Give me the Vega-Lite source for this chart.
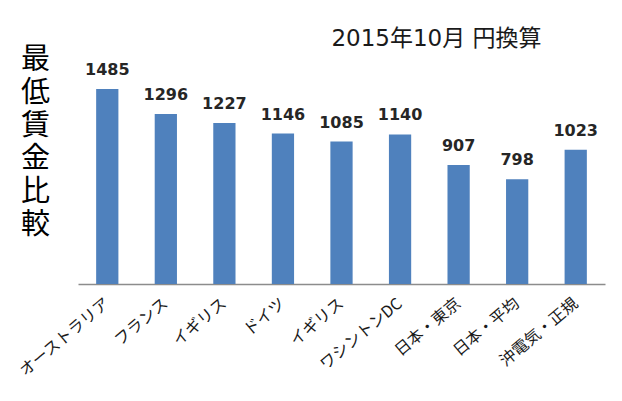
{
  "$schema": "https://vega.github.io/schema/vega-lite/v6.json",
  "autosize": {"type": "none"},
  "width": 527,
  "height": 210,
  "padding": {"left": 78, "top": 74, "right": 17, "bottom": 117},
  "background": "#ffffff",
  "config": {"view": {"stroke": null}},
  "title": {
    "text": "2015年10月 円換算",
    "font": "DejaVu Sans, Noto Sans CJK JP",
    "fontSize": 23,
    "fontWeight": "normal",
    "color": "#1a1a1a",
    "anchor": "middle",
    "frame": "group",
    "dx": 95,
    "offset": -6
  },
  "data": {
    "values": [
      {"id": "1|オーストラリア", "value": 1485},
      {"id": "2|フランス", "value": 1296},
      {"id": "3|イギリス", "value": 1227},
      {"id": "4|ドイツ", "value": 1146},
      {"id": "5|イギリス", "value": 1085},
      {"id": "6|ワシントンDC", "value": 1140},
      {"id": "7|日本・東京", "value": 907},
      {"id": "8|日本・平均", "value": 798},
      {"id": "9|沖電気・正規", "value": 1023}
    ]
  },
  "encoding": {
    "x": {
      "field": "id",
      "type": "nominal",
      "sort": null,
      "scale": {"paddingInner": 0.62, "paddingOuter": 0.31},
      "axis": {
        "title": null,
        "labelExpr": "split(datum.value, '|')[1]",
        "labelAngle": -40,
        "labelAlign": "right",
        "labelBaseline": "middle",
        "labelPadding": 17,
        "labelDx": -4,
        "labelFont": "Noto Sans CJK JP",
        "labelFontSize": 16,
        "labelColor": "#1a1a1a",
        "ticks": false,
        "domainColor": "#8c8c8c",
        "domainWidth": 1.5,
        "labelOverlap": false,
        "labelLimit": 0
      }
    },
    "y": {
      "field": "value",
      "type": "quantitative",
      "scale": {"domain": [0, 1600], "nice": false},
      "axis": {
        "title": ["最", "低", "賃", "金", "比", "較"],
        "titleAngle": 0,
        "titleX": -43,
        "titleY": -29,
        "titleAlign": "center",
        "titleBaseline": "top",
        "titleFont": "Noto Sans CJK JP",
        "titleFontSize": 29,
        "titleFontWeight": "normal",
        "titleLineHeight": 33,
        "titleColor": "#000000",
        "labels": false,
        "ticks": false,
        "domain": false,
        "grid": false
      }
    }
  },
  "layer": [
    {"mark": {"type": "bar", "color": "#4F81BD"}},
    {
      "mark": {
        "type": "text",
        "baseline": "alphabetic",
        "dy": -14,
        "font": "DejaVu Sans",
        "fontSize": 16,
        "fontWeight": "bold",
        "color": "#262626"
      },
      "encoding": {"text": {"field": "value", "type": "quantitative", "format": "d"}}
    }
  ]
}
